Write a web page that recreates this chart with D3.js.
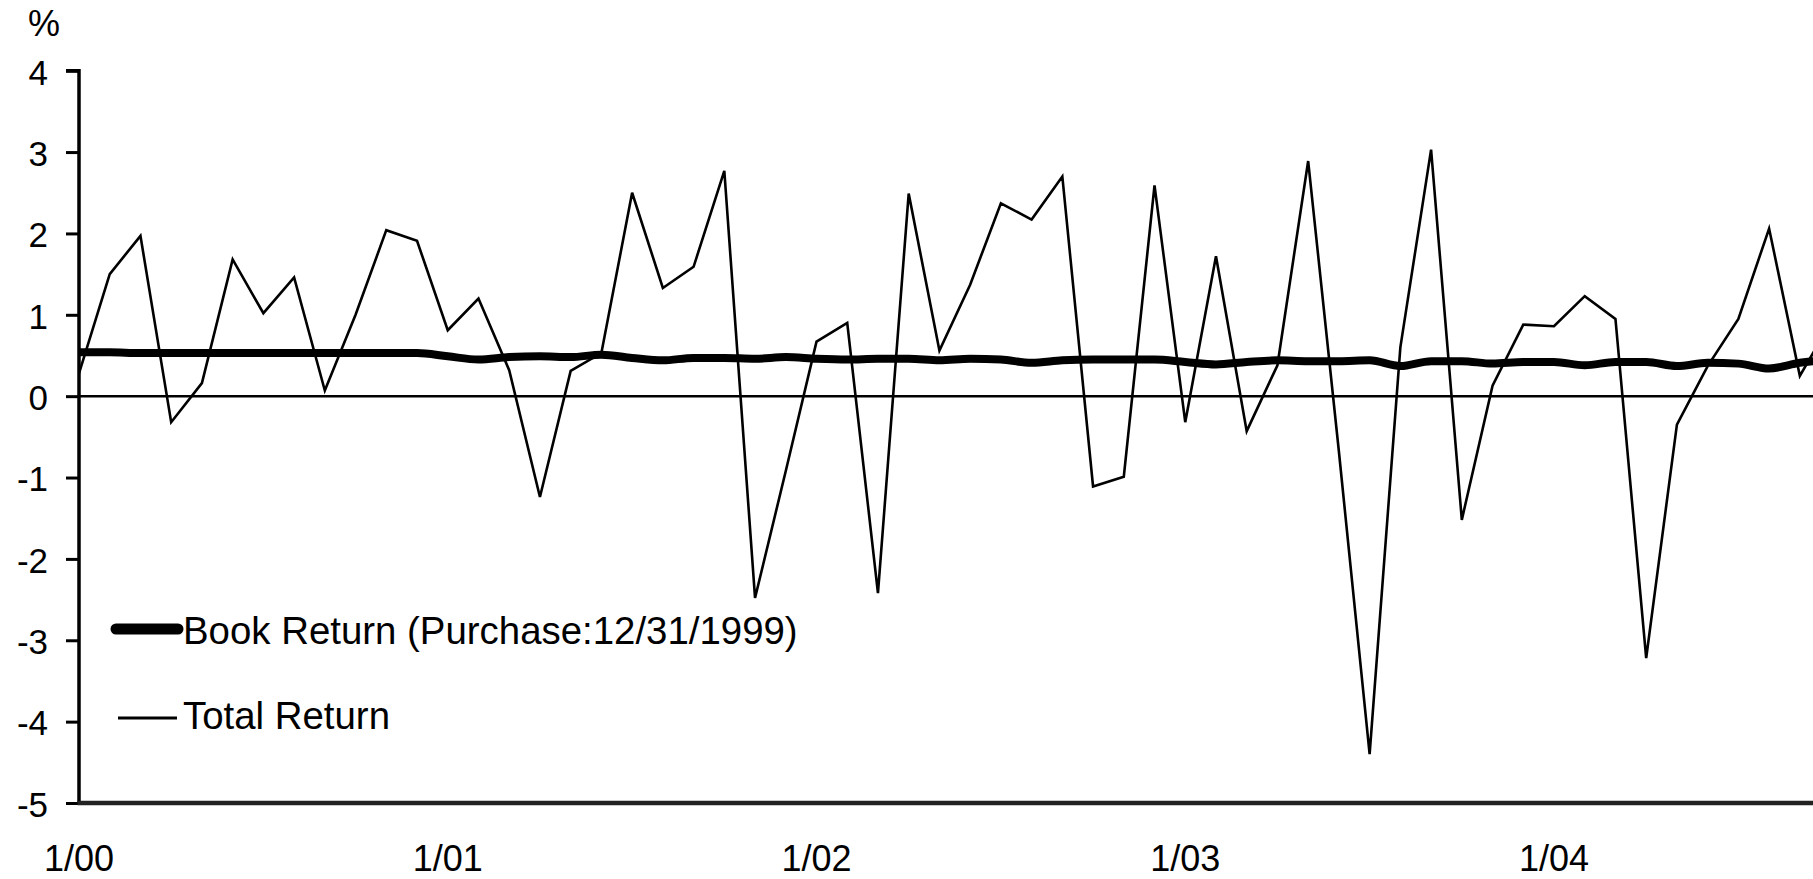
<!DOCTYPE html>
<html>
<head>
<meta charset="utf-8">
<script src="https://cdn.jsdelivr.net/npm/d3@7"></script>
<style>
  html, body { margin: 0; padding: 0; background: #fff; }
  svg { display: block; font-family: "Liberation Sans", Arial, Helvetica, sans-serif; }
</style>
</head>
<body>
<svg id="chart" width="1813" height="879"></svg>
<script>
// Monthly observations, starting January 2000 (index 0 = 1/00)
const totalReturn = [
  0.28, 1.50, 1.97, -0.32, 0.16, 1.68, 1.02, 1.46, 0.07, 1.00, 2.04, 1.91,
  0.81, 1.20, 0.32, -1.24, 0.31, 0.53, 2.50, 1.33, 1.59, 2.77, -2.48, -0.92,
  0.67, 0.90, -2.42, 2.49, 0.56, 1.37, 2.37, 2.17, 2.70, -1.11, -0.99, 2.59,
  -0.32, 1.72, -0.43, 0.38, 2.89, -0.68, -4.40, 0.60, 3.03, -1.52, 0.13, 0.88,
  0.86, 1.23, 0.95, -3.22, -0.35, 0.37, 0.95, 2.06, 0.25, 0.90
];
const bookReturn = [
  0.54, 0.54, 0.53, 0.53, 0.53, 0.53, 0.53, 0.53, 0.53, 0.53, 0.53, 0.53,
  0.49, 0.45, 0.48, 0.49, 0.48, 0.51, 0.47, 0.44, 0.47, 0.47, 0.46, 0.48,
  0.46, 0.45, 0.46, 0.46, 0.44, 0.46, 0.45, 0.41, 0.44, 0.45, 0.45, 0.45,
  0.42, 0.39, 0.42, 0.44, 0.43, 0.43, 0.44, 0.37, 0.43, 0.43, 0.40, 0.42,
  0.42, 0.38, 0.42, 0.42, 0.37, 0.41, 0.40, 0.34, 0.41, 0.45
];
const xTickMonths = [0, 12, 24, 36, 48];
const xTickLabels = ["1/00", "1/01", "1/02", "1/03", "1/04"];
const yTicks = [4, 3, 2, 1, 0, -1, -2, -3, -4, -5];
const seriesNames = ["Book Return (Purchase:12/31/1999)", "Total Return"];

const W = 1813, H = 879;
const svg = d3.select("#chart");
svg.append("rect").attr("width", W).attr("height", H).attr("fill", "#fff");

const x = d3.scaleLinear().domain([0, 48]).range([79, 1554]);
const y = d3.scaleLinear().domain([-5, 4]).range([803, 70.7]);

// Y axis
const yAxis = d3.axisLeft(y).tickValues(yTicks).tickSize(13).tickPadding(0).tickFormat(d3.format("d"));
const gy = svg.append("g").attr("transform", `translate(${x(0)},0)`).call(yAxis);
gy.select(".domain").attr("d", `M-13,${y(4)}H0V${y(-5)}`).attr("stroke", "#000").attr("stroke-width", 3.5).attr("fill", "none");
gy.selectAll(".tick line").attr("stroke", "#000").attr("stroke-width", 3);
gy.selectAll(".tick text")
  .attr("x", -31).attr("dy", "0.38em")
  .attr("font-size", 35).attr("fill", "#000")
  .attr("font-family", "Liberation Sans, Arial, sans-serif")
  .text(d => d < 0 ? "-" + Math.abs(d) : d);

// "%" unit label
svg.append("text").attr("x", 28).attr("y", 36).attr("font-size", 36).attr("fill", "#000").text("%");

// X axis line (no ticks)
svg.append("line")
  .attr("x1", x(0) - 1.5).attr("x2", W)
  .attr("y1", y(-5)).attr("y2", y(-5))
  .attr("stroke", "#222").attr("stroke-width", 4.5);

// X tick labels
svg.append("g").selectAll("text").data(xTickMonths).join("text")
  .attr("x", d => x(d)).attr("y", 871)
  .attr("text-anchor", "middle").attr("font-size", 36).attr("fill", "#000")
  .text((d, i) => xTickLabels[i]);

// Zero line
svg.append("line")
  .attr("x1", x(0)).attr("x2", W)
  .attr("y1", y(0)).attr("y2", y(0))
  .attr("stroke", "#000").attr("stroke-width", 2.5);

const clip = svg.append("clipPath").attr("id", "plotclip");
clip.append("rect").attr("x", x(0)).attr("y", 0).attr("width", W - x(0)).attr("height", H);

const lineGen = d3.line().x((d, i) => x(i)).y(d => y(d));

const plot = svg.append("g").attr("clip-path", "url(#plotclip)");
plot.append("path").datum(totalReturn)
  .attr("d", lineGen).attr("fill", "none")
  .attr("stroke", "#000").attr("stroke-width", 2.6).attr("stroke-linejoin", "miter");
plot.append("path").datum(bookReturn)
  .attr("d", lineGen.curve(d3.curveMonotoneX)).attr("fill", "none")
  .attr("stroke", "#000").attr("stroke-width", 8).attr("stroke-linejoin", "round");

// Legend
const legend = svg.append("g");
legend.append("line").attr("x1", 116).attr("x2", 178).attr("y1", 629).attr("y2", 629)
  .attr("stroke", "#000").attr("stroke-width", 11).attr("stroke-linecap", "round");
legend.append("text").attr("x", 183).attr("y", 644).attr("font-size", 38.4).attr("fill", "#000").text(seriesNames[0]);
legend.append("line").attr("x1", 118).attr("x2", 177).attr("y1", 718).attr("y2", 718)
  .attr("stroke", "#000").attr("stroke-width", 3);
legend.append("text").attr("x", 183).attr("y", 729).attr("font-size", 38.4).attr("fill", "#000").text(seriesNames[1]);
</script>
</body>
</html>
